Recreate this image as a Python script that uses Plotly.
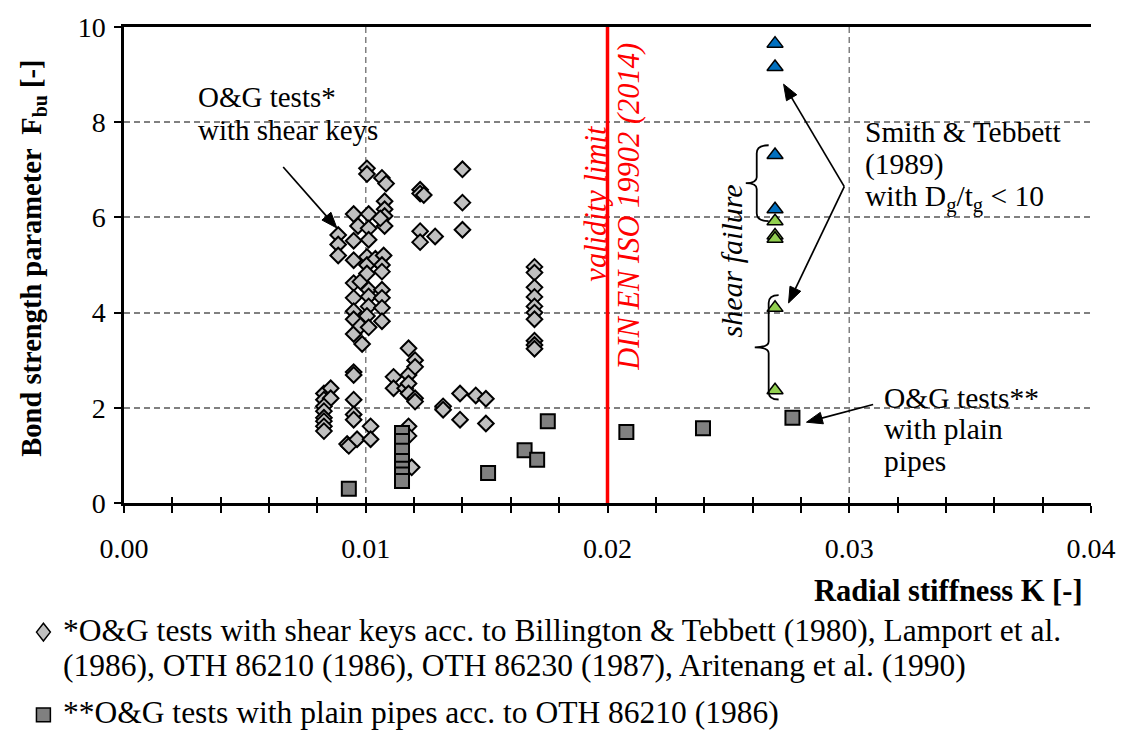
import math
import plotly.graph_objects as go

# ---------------- data ----------------
# O&G tests with shear keys (diamonds)
shear_K = [0.00827, 0.00855, 0.00827, 0.00855, 0.00827, 0.00827, 0.00827, 0.00827, 0.00827, 0.00827,
           0.00886, 0.00886, 0.00886,
           0.00923, 0.00930,
           0.00950, 0.00950, 0.00950, 0.00950, 0.00950, 0.00950, 0.00950, 0.00950, 0.00950, 0.00950,
           0.00950, 0.00950, 0.00950,
           0.00968, 0.00978, 0.00978, 0.00985, 0.00964,
           0.01005, 0.01005, 0.01012, 0.01012, 0.01012, 0.01005, 0.01005, 0.01005, 0.01012, 0.01012,
           0.01012, 0.01005, 0.01012, 0.01020, 0.01020,
           0.01040,
           0.01067, 0.01084, 0.01078, 0.01078, 0.01078, 0.01078, 0.01060, 0.01074, 0.01067, 0.01067,
           0.01067, 0.01067, 0.01067, 0.01067,
           0.01115, 0.01115, 0.01163,
           0.01177, 0.01177, 0.01177, 0.01177, 0.01177, 0.01177, 0.01190,
           0.01204, 0.01204, 0.01204, 0.01204,
           0.01225, 0.01225, 0.01225, 0.01225, 0.01240,
           0.01287, 0.01320, 0.01320,
           0.01390, 0.01390, 0.01400, 0.01400, 0.01400,
           0.01455, 0.01497, 0.01497,
           0.01698, 0.01698, 0.01698, 0.01698, 0.01698, 0.01698, 0.01698, 0.01698, 0.01698, 0.01698]
shear_F = [2.30, 2.41, 2.17, 2.20, 2.03, 1.93, 1.79, 1.72, 1.61, 1.51,
           5.63, 5.43, 5.20,
           1.24, 1.20,
           6.07, 5.51, 5.10, 4.62, 4.31, 4.03, 3.86, 3.55, 2.75, 2.69,
           2.17, 1.86, 1.75,
           5.82, 4.65, 3.72, 3.34, 1.34,
           7.03, 6.91, 6.07, 5.77, 5.53, 5.17, 5.00, 4.82, 4.48, 4.34,
           4.13, 3.93, 3.69, 1.61, 1.34,
           5.13,
           6.83, 6.71, 6.34, 6.17, 6.03, 5.82, 5.98, 5.20, 5.00, 4.86,
           4.48, 4.31, 4.10, 3.82,
           2.65, 2.41, 2.41,
           3.25, 2.69, 2.51, 2.30, 1.61, 1.41, 0.75,
           3.00, 2.86, 2.20, 2.13,
           6.58, 6.50, 5.71, 5.48, 6.47,
           5.60, 2.03, 1.96,
           2.30, 1.75, 7.01, 6.31, 5.74,
           2.26, 2.19, 1.67,
           4.96, 4.84, 4.53, 4.33, 4.13, 4.00, 3.86, 3.41, 3.32, 3.24]

# O&G tests with plain pipes (squares)
plain_K = [0.00930, 0.01150, 0.01150, 0.01150, 0.01150, 0.01150, 0.01150, 0.01150,
           0.01506, 0.01657, 0.01709, 0.01753, 0.02078, 0.02395, 0.02765]
plain_F = [0.30, 1.47, 1.30, 1.10, 0.88, 0.72, 0.60, 0.46,
           0.63, 1.11, 0.91, 1.72, 1.49, 1.57, 1.79]

# Smith & Tebbett (1989) with Dg/tg < 10
st_blue_K = [0.02693, 0.02693, 0.02693, 0.02693]
st_blue_F = [9.65, 9.16, 7.31, 6.17]
st_green_K = [0.02693, 0.02693, 0.02693, 0.02693, 0.02693]
st_green_F = [5.92, 5.62, 5.55, 4.10, 2.37]

x_ticks = [0.00, 0.01, 0.02, 0.03, 0.04]
y_ticks = [0, 2, 4, 6, 8, 10]
validity_limit_K = [0.02]

# ---------------- layout helpers ----------------
W, H = 1128, 737
L, R, T, B = 124, 1096, 20, 503
FONT = "Liberation Serif, Times New Roman, Times, DejaVu Serif, serif"


def px(x):
    return (x - L) / (R - L)


def py(y):
    return (B - y) / (B - T)


def dK(x):
    return (x - L) / (R - L) * 0.04


def dF(y):
    return (B - y) / (B - T) * 10


fig = go.Figure()

fig.add_trace(go.Scatter(
    x=shear_K, y=shear_F, mode="markers", showlegend=False,
    marker=dict(symbol="diamond", size=12, color="#c0c0c0",
                line=dict(color="black", width=2))))
fig.add_trace(go.Scatter(
    x=plain_K, y=plain_F, mode="markers", showlegend=False,
    marker=dict(symbol="square", size=14, color="#808080",
                line=dict(color="black", width=2))))
fig.add_trace(go.Scatter(
    x=st_blue_K, y=st_blue_F, mode="markers", showlegend=False,
    marker=dict(symbol="triangle-up", size=14, color="#0070c0",
                line=dict(color="black", width=1.5))))
fig.add_trace(go.Scatter(
    x=st_green_K, y=st_green_F, mode="markers", showlegend=False,
    marker=dict(symbol="triangle-up", size=14, color="#92d050",
                line=dict(color="black", width=1.5))))
# helper trace for inward half of the crossing x ticks
fig.add_trace(go.Scatter(x=[None], y=[None], xaxis="x2", showlegend=False,
                         hoverinfo="skip"))

shapes = []
# vertical dashed grid lines
for xv in x_ticks[1:-1]:
    shapes.append(dict(type="line", xref="x", yref="y", x0=xv, x1=xv, y0=0, y1=10,
                       line=dict(color="#808080", width=1.5, dash="6px,4px"),
                       layer="between"))
# white label boxes that interrupt the grid (between grid and markers)
for x0, x1, y0, y1 in [(178, 397, 72, 150), (848, 1075, 100, 228), (857, 1063, 382, 482)]:
    shapes.append(dict(type="rect", xref="paper", yref="paper",
                       x0=px(x0), x1=px(x1), y0=py(y1), y1=py(y0),
                       fillcolor="white", line=dict(width=0), layer="between"))
# red validity limit
for xv in validity_limit_K:
    shapes.append(dict(type="line", xref="x", yref="y", x0=xv, x1=xv, y0=0, y1=10,
                       line=dict(color="#ff0000", width=3.5), layer="above"))


def brace(xv, xh, xn, y0, y1):
    ym = (y0 + y1) / 2
    p = (f"M {dK(xh)},{dF(y0)} Q {dK(xv)},{dF(y0)} {dK(xv)},{dF(y0 + 8)} "
         f"L {dK(xv)},{dF(ym - 6)} Q {dK(xv)},{dF(ym)} {dK(xn)},{dF(ym)} "
         f"Q {dK(xv)},{dF(ym)} {dK(xv)},{dF(ym + 6)} L {dK(xv)},{dF(y1 - 8)} "
         f"Q {dK(xv)},{dF(y1)} {dK(xh)},{dF(y1)}")
    return dict(type="path", xref="x", yref="y", path=p,
                line=dict(color="black", width=1.8))


shapes.append(brace(760, 772, 749, 140, 217))
shapes.append(brace(772, 782, 758, 292, 398))


def ppath(points, close=True):
    s = "M " + " L ".join(f"{px(a)},{py(b)}" for a, b in points)
    return s + (" Z" if close else "")


# arrows (tip, tail in pixels) drawn as line + filled head
arrows = [((338, 224), (284, 162)), ((787, 78), (848, 182)),
          ((792, 300), (848, 182)), ((810, 421), (877, 403))]
for (tx, ty), (sx, sy) in arrows:
    dx, dy = tx - sx, ty - sy
    n = math.hypot(dx, dy)
    ux, uy = dx / n, dy / n
    hl, hw = 16, 6
    bx, by = tx - hl * ux, ty - hl * uy
    shapes.append(dict(type="path", xref="paper", yref="paper",
                       path=ppath([(sx, sy), (bx + ux, by + uy)], close=False),
                       line=dict(color="black", width=1.7)))
    shapes.append(dict(type="path", xref="paper", yref="paper",
                       path=ppath([(tx, ty), (bx - hw * uy, by + hw * ux),
                                   (bx + hw * uy, by - hw * ux)]),
                       fillcolor="black", line=dict(color="black", width=1)))

# legend glyphs
shapes.append(dict(type="path", xref="paper", yref="paper",
                   path=ppath([(36, 634), (43, 625), (50, 634), (43, 643)]),
                   fillcolor="#c0c0c0", line=dict(color="black", width=1.5)))
shapes.append(dict(type="rect", xref="paper", yref="paper",
                   x0=px(36), x1=px(50), y0=py(725), y1=py(711),
                   fillcolor="#808080", line=dict(color="black", width=1.5)))

ann = []


def text_line(txt, x, y, size, color="black", anchor="left"):
    ann.append(dict(xref="paper", yref="paper", x=px(x), y=py(y), xanchor=anchor,
                    yanchor="middle", align="left", showarrow=False, text=txt,
                    font=dict(family=FONT, size=size, color=color), borderpad=2))


# "O&G tests*" label
text_line("O&amp;G tests*", 195, 91, 29)
text_line("with shear keys", 195, 125, 29)
# Smith & Tebbett label
text_line("Smith &amp; Tebbett", 866, 127, 29.5)
text_line("(1989)", 866, 160, 29.5)
text_line("with D<sub>g</sub>/t<sub>g</sub> &lt; 10", 866, 194, 29.5)
# plain pipes label
text_line("O&amp;G tests**", 885, 396, 29.5)
text_line("with plain", 885, 428, 29.5)
text_line("pipes", 885, 460, 29.5)

ann.append(dict(xref="paper", yref="paper", x=px(735), y=py(257), textangle=-90,
                showarrow=False, text="<i>shear failure</i>",
                font=dict(family=FONT, size=30, color="black")))
ann.append(dict(xref="paper", yref="paper", x=px(599), y=py(117), textangle=-90,
                showarrow=False, text="<i>validity limit</i>",
                font=dict(family=FONT, size=30.5, color="#ff0000")))
ann.append(dict(xref="paper", yref="paper", x=px(632), y=py(202), textangle=-90,
                showarrow=False, text="<i>DIN EN ISO 19902 (2014)</i>",
                font=dict(family=FONT, size=30.5, color="#ff0000")))

# axis titles
ann.append(dict(xref="paper", yref="paper", x=px(14), y=py(255), textangle=-90,
                showarrow=False,
                text="<b>Bond strength parameter  F<sub>bu</sub> [-]</b>",
                font=dict(family=FONT, size=28.5, color="black")))
ann.append(dict(xref="paper", yref="paper", x=px(1090), y=py(592), xanchor="right",
                yanchor="middle", showarrow=False,
                text="<b>Radial stiffness K [-]</b>",
                font=dict(family=FONT, size=30.5, color="black")))

# legend texts
for txt, yy in [("*O&amp;G tests with shear keys acc. to Billington &amp; Tebbett (1980), Lamport et al.", 632),
                ("(1986), OTH 86210 (1986), OTH 86230 (1987), Aritenang et al. (1990)", 668),
                ("**O&amp;G tests with plain pipes acc. to OTH 86210 (1986)", 716)]:
    text_line(txt, 60, yy, 31.5)

fig.update_layout(
    width=W, height=H, autosize=False,
    margin=dict(l=L, r=W - R, t=T, b=H - B, pad=0),
    paper_bgcolor="white", plot_bgcolor="white",
    font=dict(family=FONT, size=28, color="black"),
    showlegend=False,
    shapes=shapes, annotations=ann,
    xaxis=dict(range=[0, 0.04], tickvals=x_ticks, tickformat=".2f",
               showgrid=False, zeroline=False,
               showline=True, linecolor="black", linewidth=2.5, mirror=True,
               ticks="outside", ticklen=7, tickwidth=2, tickcolor="black",
               minor=dict(dtick=0.002, ticks="outside", ticklen=7, tickwidth=2,
                          tickcolor="black", showgrid=False),
               tickfont=dict(family=FONT, size=28), ticklabelstandoff=12),
    xaxis2=dict(range=[0, 0.04], overlaying="x", anchor="y", side="bottom",
                showgrid=False, zeroline=False, showline=False, showticklabels=False,
                tickvals=x_ticks, ticks="inside", ticklen=6, tickwidth=2, tickcolor="black",
                minor=dict(dtick=0.002, ticks="inside", ticklen=6, tickwidth=2,
                           tickcolor="black", showgrid=False)),
    yaxis=dict(range=[0, 10], tickvals=y_ticks, showgrid=True, gridcolor="#808080",
               gridwidth=1.5, griddash="6px,4px", zeroline=False,
               showline=True, linecolor="black", linewidth=2.5, mirror=False,
               ticks="outside", ticklen=7, tickwidth=2, tickcolor="black",
               tickfont=dict(family=FONT, size=28), ticklabelstandoff=3),
)

fig.write_html("out.html")
